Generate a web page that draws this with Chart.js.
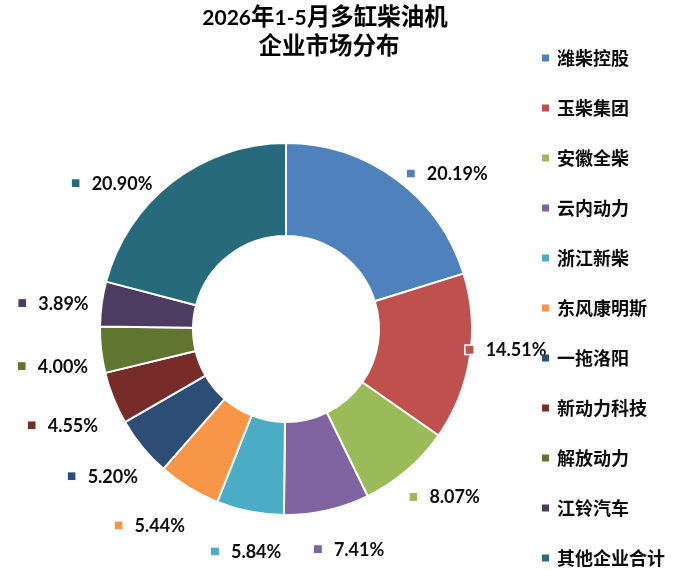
<!DOCTYPE html>
<html>
<head>
<meta charset="utf-8">
<script src="https://cdn.jsdelivr.net/npm/chart.js@4"></script>
<style>
  html, body { margin: 0; padding: 0; background: #ffffff; }
  #wrap { width: 680px; height: 570px; position: relative; }
</style>
</head>
<body>
<div id="wrap"><canvas id="c" width="680" height="570"></canvas></div>
<script>
// ---- data ----
const titleLines = ['2026年1-5月多缸柴油机', '企业市场分布'];
const categories = ['潍柴控股', '玉柴集团', '安徽全柴', '云内动力', '浙江新柴', '东风康明斯', '一拖洛阳', '新动力科技', '解放动力', '江铃汽车', '其他企业合计'];
const shares = [20.19, 14.51, 8.07, 7.41, 5.84, 5.44, 5.20, 4.55, 4.00, 3.89, 20.90];

// ---- style ----
const colors = ['#4F81BD', '#C0504D', '#9BBB59', '#8064A2', '#4BACC6', '#F79646', '#2C4D75', '#772C2A', '#5F7530', '#4D3B62', '#276A7C'];
// manual label placement tweaks (degrees / px) relative to each slice's mid angle
const labelAngleNudge = [9.7, -3.4, -2.8, -3.3, -1.0, 3.3, 0.6, -1.5, -2.6, -1.4, -12.4];
const labelRadiusNudge = [-6, -9, 1, -1, -4, 9, 5, 13, 6, 4, -3];
const LABEL_GAP = 44;
const LATIN = 'Lato, "Noto Sans CJK SC", sans-serif';
const CJK = '"Noto Sans CJK SC", sans-serif';

function drawMixed(ctx, text, cx, baseline, cjkFont, latinFont) {
  const runs = [];
  for (const ch of text) {
    const isCjk = /[\u2E80-\u9FFF\uF900-\uFAFF\uFF00-\uFFEF]/.test(ch);
    const f = isCjk ? cjkFont : latinFont;
    if (runs.length && runs[runs.length - 1].f === f) runs[runs.length - 1].t += ch;
    else runs.push({ t: ch, f: f });
  }
  let total = 0;
  runs.forEach(r => { ctx.font = r.f; r.w = ctx.measureText(r.t).width; total += r.w; });
  let x = cx - total / 2;
  ctx.textAlign = 'left';
  runs.forEach(r => { ctx.font = r.f; ctx.fillText(r.t, x, baseline); x += r.w; });
}

const titlePlugin = {
  id: 'titleDraw',
  afterDraw(chart) {
    const ctx = chart.ctx;
    ctx.save();
    ctx.fillStyle = '#000';
    ctx.textBaseline = 'alphabetic';
    const cjkF = 'bold 23.5px ' + CJK;
    const latF = 'bold 21px ' + LATIN;
    drawMixed(ctx, titleLines[0], 325, 25, cjkF, latF);
    drawMixed(ctx, titleLines[1], 329, 54, cjkF, latF);
    ctx.restore();
  }
};

const labelPlugin = {
  id: 'outerLabels',
  afterDatasetsDraw(chart) {
    const ctx = chart.ctx;
    const meta = chart.getDatasetMeta(0);
    ctx.save();
    ctx.font = 'bold 18px ' + LATIN;
    ctx.textBaseline = 'alphabetic';
    ctx.textAlign = 'left';
    meta.data.forEach((arc, i) => {
      const p = arc.getProps(['x', 'y', 'startAngle', 'endAngle', 'outerRadius'], true);
      const mid = (p.startAngle + p.endAngle) / 2 + labelAngleNudge[i] * Math.PI / 180;
      const r = p.outerRadius + LABEL_GAP + labelRadiusNudge[i];
      const cx = p.x + Math.cos(mid) * r;
      const cy = p.y + Math.sin(mid) * r;
      const text = chart.data.datasets[0].data[i].toFixed(2) + '%';
      const tw = ctx.measureText(text).width;
      const boxW = 20 + tw;
      const left = cx - boxW / 2;
      ctx.fillStyle = colors[i];
      ctx.fillRect(left, cy - 4, 8, 8);
      ctx.strokeStyle = '#ffffff';
      ctx.lineWidth = 1.5;
      ctx.strokeRect(left - 0.75, cy - 4.75, 9.5, 9.5);
      ctx.fillStyle = '#0d0d0d';
      ctx.fillText(text, left + 20, cy + 6.5);
    });
    ctx.restore();
  }
};

const legendPlugin = {
  id: 'sideLegend',
  afterDraw(chart) {
    const ctx = chart.ctx;
    ctx.save();
    ctx.font = 'bold 18px ' + CJK;
    ctx.textBaseline = 'alphabetic';
    ctx.textAlign = 'left';
    chart.data.labels.forEach((lab, i) => {
      const y = 58 + 50 * i;
      ctx.fillStyle = colors[i];
      ctx.fillRect(542, y - 3.5, 7, 7);
      ctx.fillStyle = '#0d0d0d';
      ctx.fillText(lab, 557, y + 6.5);
    });
    ctx.restore();
  }
};

new Chart(document.getElementById('c'), {
  type: 'doughnut',
  data: {
    labels: categories,
    datasets: [{
      data: shares,
      backgroundColor: colors,
      borderColor: '#ffffff',
      borderWidth: 2
    }]
  },
  options: {
    responsive: false,
    animation: false,
    events: [],
    cutout: '50%',
    layout: { padding: { left: 99, right: 207, top: 142, bottom: 54 } },
    plugins: {
      legend: { display: false },
      title: { display: false },
      tooltip: { enabled: false }
    }
  },
  plugins: [labelPlugin, legendPlugin, titlePlugin]
});
</script>
</body>
</html>
